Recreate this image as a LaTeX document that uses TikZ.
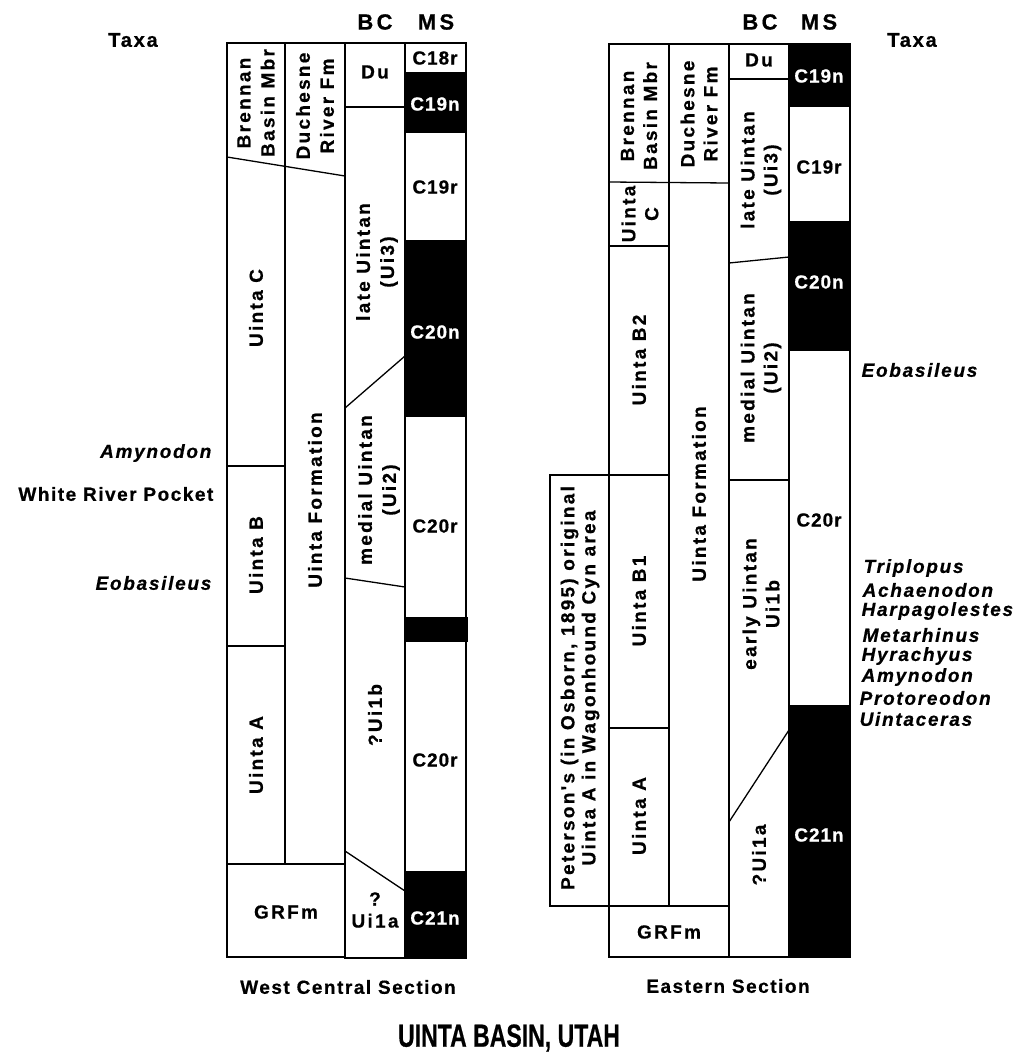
\documentclass[tikz,border=0pt]{standalone}
\usepackage{fontspec}
\usepackage{graphicx}
\setmainfont{Liberation Sans}[FakeBold=0.6]
\newfontfamily\lfont{Liberation Sans}[LetterSpace=12,FakeBold=0.6]
\newfontfamily\cfont{Liberation Sans}[LetterSpace=5,FakeBold=0.6]
\newfontfamily\tfont{Liberation Sans}[LetterSpace=9,FakeBold=0.6]
\newfontfamily\hfont{Liberation Sans}[LetterSpace=15,FakeBold=0.6]
\newfontfamily\sfont{Liberation Sans}[LetterSpace=8,FakeBold=0.6]
\tikzset{
  wl/.style={font=\lfont\bfseries\fontsize{19}{24}\selectfont, inner sep=0pt, align=center},
  el/.style={font=\lfont\bfseries\fontsize{19}{23}\selectfont, inner sep=0pt, align=center},
  cl/.style={font=\cfont\bfseries\fontsize{19}{22}\selectfont, inner sep=0pt, align=center},
  tx/.style={font=\tfont\bfseries\itshape\fontsize{19}{20}\selectfont, inner sep=0pt},
  tb/.style={font=\sfont\bfseries\fontsize{19}{20}\selectfont, inner sep=0pt},
  hd/.style={font=\hfont\bfseries\fontsize{22}{24}\selectfont, inner sep=0pt},
  sec/.style={font=\sfont\bfseries\fontsize{19}{20}\selectfont, inner sep=0pt},
  rot/.style={rotate=90},
  wt/.style={text=white},
}
\begin{document}
\begin{tikzpicture}[x=1pt,y=-1pt,line width=1.3pt]
\useasboundingbox (0,0) rectangle (1015,1053);
% ---------- West Central Section ----------
\fill (405,72) rectangle (466,133);
\fill (405,240) rectangle (466,417);
\fill (405,617) rectangle (468,642);
\fill (405,871) rectangle (466,958);
\draw (227,43) rectangle (345,864);
\draw (285,43) -- (285,864);
\draw (227,157) -- (345,176);
\draw (227,466) -- (285,466);
\draw (227,646) -- (285,646);
\draw (227,864) rectangle (345,957);
\draw (345,43) rectangle (405,958);
\draw (345,107) -- (405,107);
\draw (345,408) -- (405,356);
\draw (345,578) -- (405,587);
\draw (345,851) -- (405,891);
\draw (405,43) rectangle (466,958);
% ---------- Eastern Section ----------
\fill (789,44) rectangle (850,107);
\fill (789,221) rectangle (850,351);
\fill (789,705) rectangle (850,957);
\draw (550,475) rectangle (609,906);
\draw (609,44) rectangle (729,906);
\draw (669,44) -- (669,906);
\draw (609,182) -- (729,183);
\draw (609,246) -- (669,246);
\draw (609,475) -- (669,475);
\draw (609,728) -- (669,728);
\draw (609,906) rectangle (729,957);
\draw (729,44) rectangle (789,957);
\draw (729,79) -- (789,79);
\draw (729,263) -- (789,257);
\draw (729,480) -- (789,480);
\draw (789,730) -- (729,822);
\draw (789,44) rectangle (850,957);
% ---------- headers ----------
\node[tb,font=\tfont\bfseries\fontsize{20}{22}\selectfont] (taxaW) at (133,40) {Taxa};
\node[tb,font=\tfont\bfseries\fontsize{20}{22}\selectfont] (taxaE) at (912,40) {Taxa};
\node[hd] (bcW) at (375,22) {BC};
\node[hd] (msW) at (436,22) {MS};
\node[hd] (bcE) at (760,22) {BC};
\node[hd] (msE) at (819,22) {MS};
% ---------- West labels ----------
\node[wl,rot] (wBren) at (256,103) {Brennan\\Basin Mbr};
\node[wl,rot] (wUC) at (256,308) {Uinta C};
\node[wl,rot] (wUB) at (256,555) {Uinta B};
\node[wl,rot] (wUA) at (256,755) {Uinta A};
\node[wl] (wGR) at (286,912) {GRFm};
\node[wl,rot] (wDuch) at (315,106) {Duchesne\\River Fm};
\node[wl,rot] (wUF) at (315,500) {Uinta Formation};
\node[wl] (wDu) at (375,72) {Du};
\node[wl,rot] (wLate) at (377,262) {late Uintan\\(Ui3)};
\node[wl,rot] (wMed) at (379,490) {medial Uintan\\(Ui2)};
\node[wl,rot] (wUi1b) at (375,715) {?Ui1b};
\node[wl,font=\lfont\bfseries\fontsize{19}{22}\selectfont] (wUi1a) at (375,910) {?\\Ui1a};
\node[cl] (wC18r) at (435,58) {C18r};
\node[cl,wt] (wC19n) at (435,104) {C19n};
\node[cl] (wC19r) at (435,187) {C19r};
\node[cl,wt] (wC20n) at (435,332) {C20n};
\node[cl] (wC20ra) at (435,526) {C20r};
\node[cl] (wC20rb) at (435,760) {C20r};
\node[cl,wt] (wC21n) at (435,918) {C21n};
% ---------- East labels ----------
\node[el,rot] (eBren) at (639,116) {Brennan\\Basin Mbr};
\node[el,rot] (eUC) at (640,214) {Uinta\\C};
\node[el,rot] (eUB2) at (639,360) {Uinta B2};
\node[el,rot] (eUB1) at (639,601) {Uinta B1};
\node[el,rot] (eUA) at (639,816) {Uinta A};
\node[el] (eGR) at (669,932) {GRFm};
\node[el,rot,font=\lfont\bfseries\fontsize{19}{21}\selectfont] (ePet) at (580,688) {Peterson's (in Osborn, 1895) original\\Uinta A in Wagonhound Cyn area};
\node[el,rot] (eDuch) at (699,114) {Duchesne\\River Fm};
\node[el,rot] (eUF) at (699,494) {Uinta Formation};
\node[el] (eDu) at (759,60) {Du};
\node[el,rot] (eLate) at (761,170) {late Uintan\\(Ui3)};
\node[el,rot] (eMed) at (761,368) {medial Uintan\\(Ui2)};
\node[el,rot] (eEarly) at (761,604) {early Uintan\\Ui1b};
\node[el,rot] (eUi1a) at (759,855) {?Ui1a};
\node[cl,wt] (eC19n) at (819,76) {C19n};
\node[cl] (eC19r) at (819,167) {C19r};
\node[cl,wt] (eC20n) at (819,282) {C20n};
\node[cl] (eC20r) at (819,520) {C20r};
\node[cl,wt] (eC21n) at (819,835) {C21n};
% ---------- Taxa ----------
\node[tx,anchor=east] (tAmyW) at (212,453) {Amynodon};
\node[tb,anchor=east] (tWRP) at (214,494) {White River Pocket};
\node[tx,anchor=east] (tEobW) at (212,583) {Eobasileus};
\node[tx,anchor=west] (tEobE) at (861,370) {Eobasileus};
\node[tx,anchor=west] (tTri) at (863,568) {Triplopus};
\node[tx,anchor=west] (tAch) at (862,590) {Achaenodon};
\node[tx,anchor=west] (tHar) at (861,611) {Harpagolestes};
\node[tx,anchor=west] (tMet) at (862,635) {Metarhinus};
\node[tx,anchor=west] (tHyr) at (861,656) {Hyrachyus};
\node[tx,anchor=west] (tAmyE) at (861,677) {Amynodon};
\node[tx,anchor=west] (tPro) at (859,698) {Protoreodon};
\node[tx,anchor=west] (tUin) at (859,719) {Uintaceras};
% ---------- captions ----------
\node[sec] (capW) at (348,987) {West Central Section};
\node[sec] (capE) at (728,986) {Eastern Section};
\node[inner sep=0pt,font=\bfseries\fontsize{32}{34}\selectfont] (title) at (509,1038) {\scalebox{0.72}[1]{UINTA BASIN, UTAH}};
\end{tikzpicture}
\end{document}
